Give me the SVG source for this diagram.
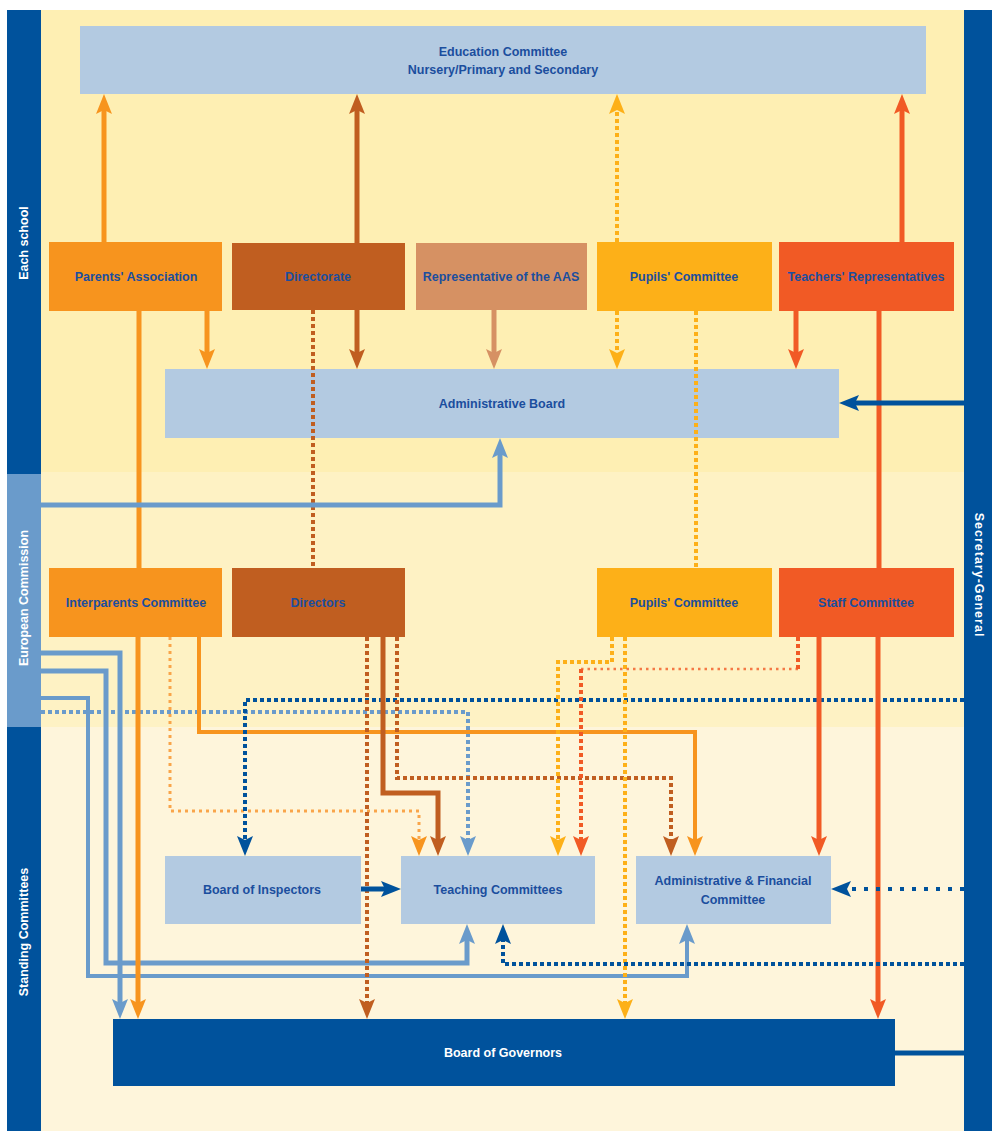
<svg xmlns="http://www.w3.org/2000/svg" width="992" height="1131" viewBox="0 0 992 1131">
<style>
text{font-family:"Liberation Sans",Arial,sans-serif;font-weight:bold;font-size:12.5px;text-anchor:middle;dominant-baseline:central;fill:#1B4E9E}
.bar text{fill:#fff}
.box{fill:#B3CAE1}
.c{fill:none;stroke-linecap:butt;stroke-linejoin:miter}
.s5{stroke-width:5}
.s4{stroke-width:4}
.dot{stroke-width:4;stroke-dasharray:4 3}
.or{stroke:#F7941E}
.br{stroke:#C05E20}
.tn{stroke:#D69163}
.ye{stroke:#FDB018}
.rd{stroke:#F15A25}
.lb{stroke:#6A9BCB}
.db{stroke:#00529C}
.lo{stroke:#F9A54A}
</style>
<defs>
<marker id="aOr" viewBox="0 0 20 16" markerWidth="20" markerHeight="16" refX="12" refY="8" orient="auto" markerUnits="userSpaceOnUse"><path d="M0,0L20,8L0,16L4,8Z" fill="#F7941E"/></marker>
<marker id="aBr" viewBox="0 0 20 16" markerWidth="20" markerHeight="16" refX="12" refY="8" orient="auto" markerUnits="userSpaceOnUse"><path d="M0,0L20,8L0,16L4,8Z" fill="#C05E20"/></marker>
<marker id="aTn" viewBox="0 0 20 16" markerWidth="20" markerHeight="16" refX="12" refY="8" orient="auto" markerUnits="userSpaceOnUse"><path d="M0,0L20,8L0,16L4,8Z" fill="#D69163"/></marker>
<marker id="aYe" viewBox="0 0 20 16" markerWidth="20" markerHeight="16" refX="12" refY="8" orient="auto" markerUnits="userSpaceOnUse"><path d="M0,0L20,8L0,16L4,8Z" fill="#FDB018"/></marker>
<marker id="aRd" viewBox="0 0 20 16" markerWidth="20" markerHeight="16" refX="12" refY="8" orient="auto" markerUnits="userSpaceOnUse"><path d="M0,0L20,8L0,16L4,8Z" fill="#F15A25"/></marker>
<marker id="aLb" viewBox="0 0 20 16" markerWidth="20" markerHeight="16" refX="12" refY="8" orient="auto" markerUnits="userSpaceOnUse"><path d="M0,0L20,8L0,16L4,8Z" fill="#6A9BCB"/></marker>
<marker id="aDb" viewBox="0 0 20 16" markerWidth="20" markerHeight="16" refX="12" refY="8" orient="auto" markerUnits="userSpaceOnUse"><path d="M0,0L20,8L0,16L4,8Z" fill="#00529C"/></marker>
<marker id="aLo" viewBox="0 0 20 16" markerWidth="20" markerHeight="16" refX="12" refY="8" orient="auto" markerUnits="userSpaceOnUse"><path d="M0,0L20,8L0,16L4,8Z" fill="#F7941E"/></marker>
</defs>
<rect x="0" y="0" width="992" height="1131" fill="#fff"/>
<rect x="41" y="10" width="923" height="462" fill="#FEEFB3"/>
<rect x="41" y="472" width="923" height="255" fill="#FEF2C4"/>
<rect x="41" y="727" width="923" height="404" fill="#FEF5DB"/>

<g id="bar-each-school" class="bar"><rect x="7" y="10" width="34" height="464" fill="#00529C"/><text transform="translate(24,243) rotate(-90)">Each school</text></g>
<g id="bar-european-commission" class="bar"><rect x="7" y="474" width="34" height="253" fill="#6A9BCB"/><text transform="translate(24,598) rotate(-90)">European Commission</text></g>
<g id="bar-standing-committees" class="bar"><rect x="7" y="727" width="34" height="404" fill="#00529C"/><text transform="translate(24,932) rotate(-90)">Standing Committees</text></g>
<g id="bar-secretary-general" class="bar"><rect x="964" y="10" width="28" height="1121" fill="#00529C"/><text transform="translate(979,575) rotate(90)" letter-spacing="1">Secretary-General</text></g>

<g id="education-committee"><rect class="box" x="80" y="26" width="846" height="68"/><text x="503" y="52">Education Committee</text><text x="503" y="70">Nursery/Primary and Secondary</text></g>
<g id="parents-association"><rect x="49" y="242" width="173" height="69" fill="#F7941E"/><text x="136" y="277">Parents' Association</text></g>
<g id="directorate"><rect x="232" y="243" width="173" height="67" fill="#C05E20"/><text x="318" y="277">Directorate</text></g>
<g id="representative-aas"><rect x="416" y="243" width="171" height="67" fill="#D69163"/><text x="501" y="277">Representative of the AAS</text></g>
<g id="pupils-committee-1"><rect x="597" y="242" width="175" height="69" fill="#FDB018"/><text x="684" y="277">Pupils' Committee</text></g>
<g id="teachers-representatives"><rect x="779" y="242" width="175" height="69" fill="#F15A25"/><text x="866" y="277">Teachers' Representatives</text></g>
<g id="administrative-board"><rect class="box" x="165" y="369" width="674" height="69"/><text x="502" y="404">Administrative Board</text></g>
<g id="interparents-committee"><rect x="49" y="568" width="173" height="69" fill="#F7941E"/><text x="136" y="603">Interparents Committee</text></g>
<g id="directors"><rect x="232" y="568" width="173" height="69" fill="#C05E20"/><text x="318" y="603">Directors</text></g>
<g id="pupils-committee-2"><rect x="597" y="568" width="175" height="69" fill="#FDB018"/><text x="684" y="603">Pupils' Committee</text></g>
<g id="staff-committee"><rect x="779" y="568" width="175" height="69" fill="#F15A25"/><text x="866" y="603">Staff Committee</text></g>
<g id="board-of-inspectors"><rect class="box" x="165" y="856" width="196" height="68"/><text x="262" y="890">Board of Inspectors</text></g>
<g id="teaching-committees"><rect class="box" x="401" y="856" width="194" height="68"/><text x="498" y="890">Teaching Committees</text></g>
<g id="admin-financial-committee"><rect class="box" x="636" y="856" width="195" height="68"/><text x="733" y="881">Administrative &amp; Financial</text><text x="733" y="900">Committee</text></g>
<g id="board-of-governors"><rect x="113" y="1019" width="782" height="67" fill="#00529C"/><text x="503" y="1053" fill="#fff" style="fill:#fff">Board of Governors</text></g>

<g id="connectors">
<!-- top section -->
<path class="c s5 or" d="M104,242V102" marker-end="url(#aOr)"/>
<path class="c s5 br" d="M357,243V102" marker-end="url(#aBr)"/>
<path class="c s5 br" d="M357,310V361" marker-end="url(#aBr)"/>
<path class="c dot ye" d="M617,242V102" marker-end="url(#aYe)"/>
<path class="c dot ye" d="M617,311V361" marker-end="url(#aYe)"/>
<path class="c s5 rd" d="M902,242V102" marker-end="url(#aRd)"/>
<path class="c s5 or" d="M207,311V361" marker-end="url(#aOr)"/>
<path class="c s5 or" d="M139,311V568"/>
<path class="c dot br" d="M313,310V568"/>
<path class="c s5 tn" d="M494,310V361" marker-end="url(#aTn)"/>
<path class="c dot ye" d="M696,311V568"/>
<path class="c s5 rd" d="M796,311V361" marker-end="url(#aRd)"/>
<path class="c s5 rd" d="M879,311V568"/>
<path class="c s5 db" d="M964,403H847" marker-end="url(#aDb)"/>
<path class="c s5 lb" d="M41,505H500V446" marker-end="url(#aLb)"/>
<!-- middle section -->
<path class="c s5 lb" d="M41,653H120V1011" marker-end="url(#aLb)"/>
<path class="c s5 lb" d="M41,671H106V963H467V932" marker-end="url(#aLb)"/>
<path class="c s4 lb" d="M41,698H88V976H687V932" marker-end="url(#aLb)"/>
<path class="c dot lb" d="M41,712H468V848" marker-end="url(#aLb)"/>
<path class="c s5 or" d="M138,637V1011" marker-end="url(#aOr)"/>
<path class="c lo" stroke-width="3" stroke-dasharray="3 4" d="M170,637V811H419V848" marker-end="url(#aLo)"/>
<path class="c s4 or" d="M199,637V732H695V848" marker-end="url(#aOr)"/>
<path class="c dot db" d="M964,700H245V848" marker-end="url(#aDb)"/>
<path class="c dot br" d="M367,637V1011" marker-end="url(#aBr)"/>
<path class="c s5 br" d="M383,637V793H438V848" marker-end="url(#aBr)"/>
<path class="c dot br" d="M397,637V778H671V848" marker-end="url(#aBr)"/>
<path class="c dot ye" d="M612,637V662H558V848" marker-end="url(#aYe)"/>
<path class="c dot ye" d="M625,637V1011" marker-end="url(#aYe)"/>
<path class="c dot rd" d="M798,637V669"/>
<path class="c rd" stroke-width="2.5" stroke-dasharray="2.5 4" stroke-opacity="0.8" d="M798,669H581"/>
<path class="c dot rd" d="M581,669V848" marker-end="url(#aRd)"/>
<path class="c s5 rd" d="M819,637V848" marker-end="url(#aRd)"/>
<path class="c s5 rd" d="M878,637V1011" marker-end="url(#aRd)"/>
<!-- bottom section -->
<path class="c s5 db" d="M361,889H393" marker-end="url(#aDb)"/>
<path class="c db" stroke-width="4" stroke-dasharray="4 8" d="M964,889H839" marker-end="url(#aDb)"/>
<path class="c dot db" d="M964,964H503V932" marker-end="url(#aDb)"/>
<path class="c s5 db" d="M895,1053H964"/>
</g>
</svg>
